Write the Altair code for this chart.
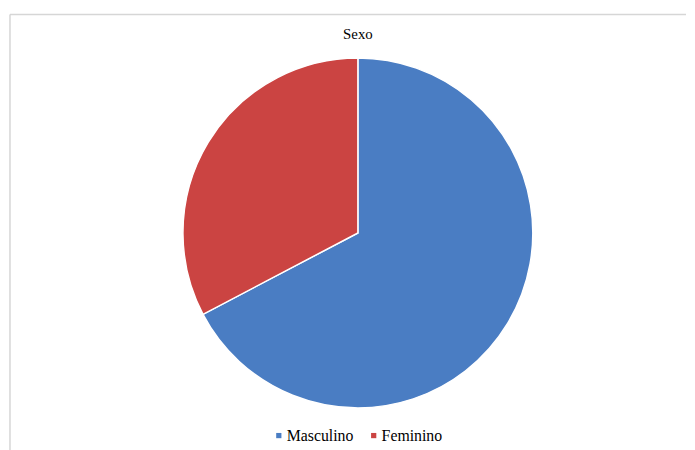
import altair as alt
import pandas as pd

categories = ["Masculino", "Feminino"]
values = [67.3, 32.7]
colors = ["#4A7DC3", "#CB4442"]
title_text = "Sexo"

df = pd.DataFrame({"Sexo": categories, "valor": values, "ordem": [0, 1]})

pie = alt.Chart(df).mark_arc(radius=177, stroke="white", strokeWidth=1.5).encode(
    theta=alt.Theta("valor:Q", stack=True),
    order=alt.Order("ordem:Q"),
    color=alt.Color(
        "Sexo:N",
        sort=categories,
        scale=alt.Scale(domain=categories, range=colors),
        legend=alt.Legend(
            title=None,
            orient="none",
            direction="horizontal",
            legendX=266,
            legendY=422,
            symbolType="square",
            symbolSize=28,
            symbolStrokeWidth=0,
            columnPadding=12,
            labelOffset=0,
            labelFont="Liberation Serif",
            labelFontSize=16,
            labelColor="#000000",
        ),
    ),
    x=alt.value(354),
    y=alt.value(225),
)

title = alt.Chart(pd.DataFrame({"t": [title_text]})).mark_text(
    font="Liberation Serif", fontSize=15, color="#000000"
).encode(text="t:N", x=alt.value(354), y=alt.value(24))

top_line = alt.Chart(pd.DataFrame({"a": [0]})).mark_rule(color="#d6d6d6", strokeWidth=1.5).encode(
    x=alt.value(2), x2=alt.value(686), y=alt.value(4)
)
left_line = alt.Chart(pd.DataFrame({"a": [0]})).mark_rule(color="#d6d6d6", strokeWidth=1.5).encode(
    x=alt.value(2), y=alt.value(4), y2=alt.value(450)
)

chart = alt.layer(top_line, left_line, pie, title).properties(
    width=687, height=442, padding=0, autosize=alt.AutoSizeParams(type="none")
).configure_view(stroke=None).configure_legend(
    labelFont="Liberation Serif", labelFontSize=16, labelColor="#000000"
)

chart.save("out.html", embed_options={"renderer": "svg", "actions": False})
